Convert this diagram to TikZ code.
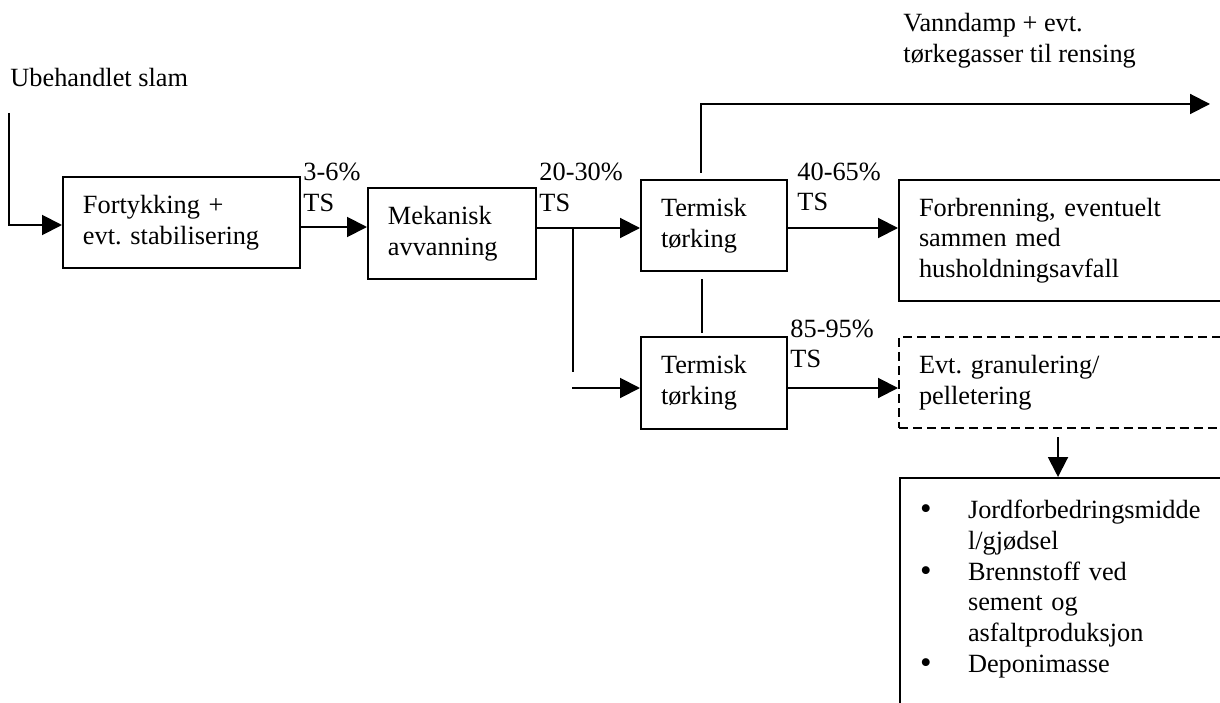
\documentclass[tikz,border=0pt]{standalone}
\usepackage{fontspec}
\setmainfont{Liberation Serif}
\usetikzlibrary{arrows.meta}
\frenchspacing
\newcommand{\bul}{\makebox[21.9pt][l]{\raisebox{-0.6pt}{\fontsize{15}{14}\selectfont\textbullet}}}
\newcommand{\cont}{\hspace*{21.9pt}}
\tikzset{
  box/.style={rectangle,draw=black,line width=0.9pt,align=left,anchor=north west,
    inner xsep=9.12pt,inner ysep=0pt,text width=#1},
  box/.default=48.34pt,
  dashedbox/.style={dash pattern=on 4.1pt off 2.3pt},
  tsnote/.style={align=left,anchor=west,inner sep=0pt},
  flow/.style={-{Triangle[length=9.1pt,width=9.1pt]},line width=0.9pt},
  plain/.style={line width=0.9pt}
}
\begin{document}
\begin{tikzpicture}[x=0.456pt,y=-0.456pt,font=\fontsize{12}{14}\selectfont]
\useasboundingbox (0,0) rectangle (1220,702);
% process boxes
\node[box=89.83pt,minimum height=41.5pt] (thicken) at (62,176) {Fortykking +\\evt. stabilisering};
\node[box=58.37pt,minimum height=41.5pt] (dewater) at (367,187) {Mekanisk\\avvanning};
\node[box,minimum height=41.5pt] (dryA) at (640,179) {Termisk\\tørking};
\node[box,minimum height=41.95pt] (dryB) at (640,336) {Termisk\\tørking};
\node[box=136.8pt,minimum height=55.2pt] (burn) at (898,179) {Forbrenning, eventuelt\\sammen med\\husholdningsavfall};
\node[box=136.8pt,minimum height=41.5pt,dashedbox] (granul) at (898,336) {Evt. granulering/\\pelletering};
\node[box=136.8pt,minimum height=112.6pt] (use) at (899,477) {\bul Jordforbedringsmidde\\\cont l/gjødsel\\\bul Brennstoff ved\\\cont sement og\\\cont asfaltproduksjon\\\bul Deponimasse\\\mbox{}};
% texts
\node[tsnote,anchor=base west] (feed) at (10,87) {Ubehandlet slam};
\node[tsnote] (vapour) at (903,40.5) {Vanndamp + evt.\\tørkegasser til rensing};
\node[tsnote] (tsA) at (303,187.5) {3-6\%\\TS};
\node[tsnote] (tsB) at (539,187.5) {20-30\%\\TS};
\node[tsnote] (tsC) at (797,187) {40-65\%\\TS};
\node[tsnote] (tsD) at (790,344) {85-95\%\\TS};
% connectors
\coordinate (feedTop) at (9,113);
\coordinate (feedBend) at (9,225);
\coordinate (thickOut) at (0,227);
\coordinate (split) at (573,228);
\coordinate (splitEnd) at (573,372);
\coordinate (dryBfeed) at (572,388);
\coordinate (ventFoot) at (701,173);
\coordinate (ventTip) at (1210,104);
\coordinate (linkTop) at (702,279);
\coordinate (linkBot) at (702,333);
\coordinate (granOut) at (1058,437);
\draw[flow] (feedTop) -- (feedBend) -- (feedBend -| thicken.west);
\draw[flow] (thicken.east |- thickOut) -- (dewater.west |- thickOut);
\draw[flow] (dewater.east |- split) -- (dryA.west |- split);
\draw[plain] (split) -- (splitEnd);
\draw[flow] (dryBfeed) -- (dryB.west |- dryBfeed);
\draw[flow] (ventFoot) |- (ventTip);
\draw[plain] (linkTop) -- (linkBot);
\draw[flow] (dryA.east |- split) -- (burn.west |- split);
\draw[flow] (dryB.east |- dryBfeed) -- (granul.west |- dryBfeed);
\draw[flow] (granOut) -- (granOut |- use.north);
\end{tikzpicture}
\end{document}
